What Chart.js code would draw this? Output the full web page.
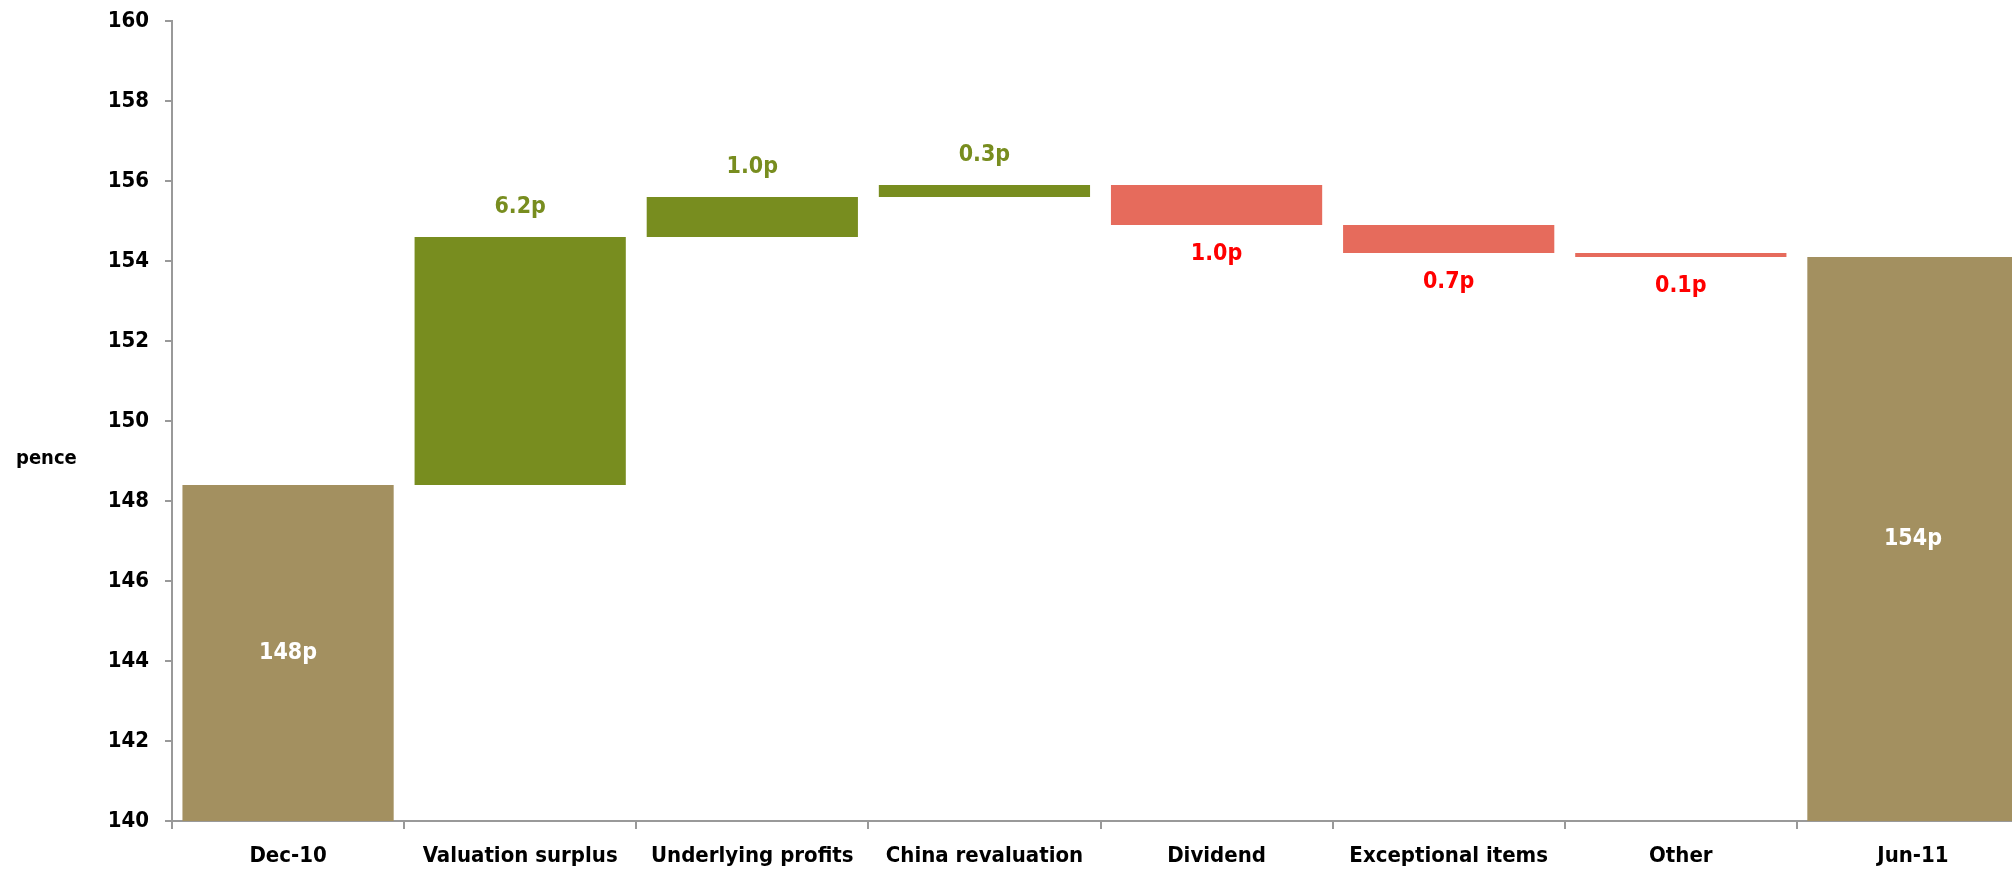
<!DOCTYPE html>
<html lang="en">
<head>
    <meta charset="UTF-8" />
    <title>NAV bridge Dec-10 to Jun-11</title>
    <style>
        html, body {
            margin: 0;
            padding: 0;
            background: #ffffff;
            overflow: hidden;
        }
        #chart-container {
            width: 2030px;
            height: 873px;
            position: relative;
        }
    </style>
    <script src="https://cdn.jsdelivr.net/npm/chart.js"></script>
</head>
<body>
<div id="chart-container">
    <canvas id="bridgeChart"></canvas>
</div>

<script>
  // categories along the x axis
  const categories = [
    "Dec-10", "Valuation surplus", "Underlying profits", "China revaluation",
    "Dividend", "Exceptional items", "Other", "Jun-11"
  ];
  // opening and closing NAV (pence)
  const openingValue = 148.4;
  const closingValue = 154.1;
  // movements between them (pence)
  const movements = [6.2, 1.0, 0.3, -1.0, -0.7, -0.1];
  // bar labels as printed
  const barLabels = ["148p", "6.2p", "1.0p", "0.3p", "1.0p", "0.7p", "0.1p", "154p"];
  const yMin = 140;
  const yMax = 160;
  const yStep = 2;

  const TOTAL = "#a39060";
  const UP = "#788d1f";
  const DOWN = "#e66b5c";

  // floating bars: [low, high]
  const ranges = [[yMin, openingValue]];
  const kinds = ["total"];
  let level = openingValue;
  movements.forEach((m) => {
    const next = Math.round((level + m) * 10) / 10;
    ranges.push([Math.min(level, next), Math.max(level, next)]);
    kinds.push(m >= 0 ? "up" : "down");
    level = next;
  });
  ranges.push([yMin, closingValue]);
  kinds.push("total");

  const colors = kinds.map((k) => (k === "total" ? TOTAL : k === "up" ? UP : DOWN));

  const FONT = "'DejaVu Sans Condensed', 'DejaVu Sans', sans-serif";

  const labelPlugin = {
    id: "barLabels",
    afterDatasetsDraw(chart) {
      const ctx = chart.ctx;
      const meta = chart.getDatasetMeta(0);
      ctx.save();
      ctx.font = "bold 23px " + FONT;
      ctx.textAlign = "center";
      ctx.textBaseline = "middle";
      meta.data.forEach((bar, i) => {
        const top = Math.min(bar.y, bar.base);
        const bottom = Math.max(bar.y, bar.base);
        let y;
        if (kinds[i] === "total") {
          ctx.fillStyle = "#ffffff";
          y = (top + bottom) / 2;
        } else if (kinds[i] === "up") {
          ctx.fillStyle = UP;
          y = top - 30;
        } else {
          ctx.fillStyle = "#ff0000";
          y = bottom + 29;
        }
        ctx.fillText(barLabels[i], bar.x, y);
      });
      // horizontal axis title on the left
      const area = chart.chartArea;
      ctx.font = "bold 20px " + FONT;
      ctx.fillStyle = "#000000";
      ctx.textAlign = "left";
      ctx.fillText("pence", 16, (area.top + area.bottom) / 2 + 38);
      ctx.restore();
    },
  };

  const ctx = document.getElementById("bridgeChart").getContext("2d");
  new Chart(ctx, {
    type: "bar",
    data: {
      labels: categories,
      datasets: [
        {
          data: ranges,
          backgroundColor: colors,
          borderWidth: 0,
          barPercentage: 0.91,
          categoryPercentage: 1.0,
        },
      ],
    },
    options: {
      responsive: true,
      maintainAspectRatio: false,
      animation: false,
      layout: {
        autoPadding: false,
        padding: { top: 21, right: 1, bottom: 0, left: 0 },
      },
      scales: {
        y: {
          min: yMin,
          max: yMax,
          afterFit: (scale) => {
            scale.width = 172;
            // keep the top label from pushing the plot down
            scale.paddingTop = 0;
            scale.paddingBottom = 0;
          },
          ticks: {
            stepSize: yStep,
            color: "#000000",
            padding: 16,
            font: { family: FONT, size: 22, weight: "bold" },
          },
          grid: {
            drawOnChartArea: false,
            drawTicks: true,
            tickLength: 7,
            color: "#999999",
            lineWidth: 2,
          },
          border: { color: "#999999", width: 2 },
        },
        x: {
          afterFit: (scale) => { scale.height = 52; },
          ticks: {
            color: "#000000",
            padding: 14,
            maxRotation: 0,
            font: { family: FONT, size: 22, weight: "bold" },
          },
          grid: {
            offset: true,
            drawOnChartArea: false,
            drawTicks: true,
            tickLength: 8,
            color: "#999999",
            lineWidth: 2,
          },
          border: { color: "#999999", width: 2 },
        },
      },
      plugins: {
        legend: { display: false },
        tooltip: { enabled: false },
      },
    },
    plugins: [labelPlugin],
  });
</script>
</body>
</html>
